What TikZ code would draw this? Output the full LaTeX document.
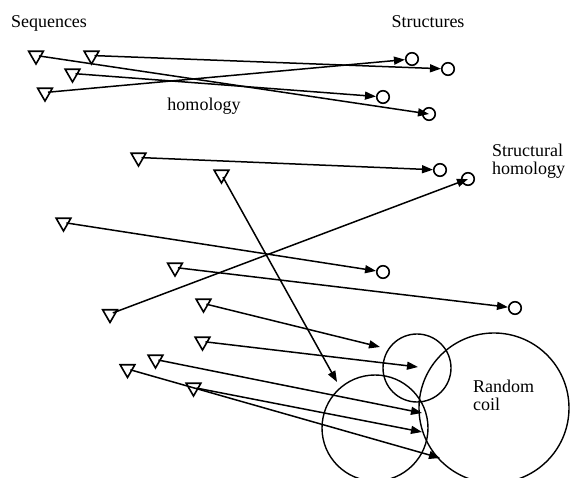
\documentclass[tikz,border=0pt]{standalone}
\usepackage{fontspec}
\setmainfont{Liberation Serif}
\usetikzlibrary{shapes.geometric,arrows.meta}
\tikzset{
  seqtri/.style={draw, regular polygon, regular polygon sides=3, shape border rotate=180,
    minimum size=17pt, inner sep=0pt, line width=1.6pt},
  strc/.style={draw, circle, minimum size=12.5pt, inner sep=0pt, line width=1.6pt},
  bigc/.style={draw, circle, inner sep=0pt, line width=1.4pt},
  conn/.style={line width=1.5pt, -{Triangle[length=11pt,width=8pt]}, shorten <=3pt},
  lbl/.style={font=\fontsize{18}{18}\selectfont, inner sep=0pt, align=left}
}
\begin{document}
\begin{tikzpicture}[x=1pt,y=-1pt]
\useasboundingbox (0,0) rectangle (571,478);
% labels
\node[lbl] (seqlbl) at (49,23) {Sequences};
\node[lbl] (strlbl) at (428,22) {Structures};
\node[lbl] (homlbl) at (204,106) {homology};
\node[lbl, anchor=west] (shlbl) at (492,161) {Structural\\homology};
\node[lbl, anchor=west] (rclbl) at (473,395) {Random\\coil};
% big circles
\node[bigc, minimum size=68pt] (S) at (417,368) {};
\node[bigc, minimum size=106pt] (L) at (375,428) {};
\node[bigc, minimum size=150pt] (R) at (494,408) {};
% triangles
\node[seqtri] (T1) at (36,55.5) {};
\node[seqtri] (T2) at (91.5,55.5) {};
\node[seqtri] (T3) at (72.5,73.5) {};
\node[seqtri] (T4) at (45,92.5) {};
\node[seqtri] (T5) at (138.5,157.5) {};
\node[seqtri] (T6) at (221.5,174.5) {};
\node[seqtri] (T7) at (63.5,222.5) {};
\node[seqtri] (T8) at (175,267.5) {};
\node[seqtri] (T9) at (110,314) {};
\node[seqtri] (T10) at (203.5,303.5) {};
\node[seqtri] (T11) at (202.5,341.5) {};
\node[seqtri] (T12) at (155.5,359.5) {};
\node[seqtri] (T13) at (127.5,369) {};
\node[seqtri] (T14) at (193.5,387.5) {};
% structure circles
\node[strc] (C1) at (412,59) {};
\node[strc] (C2) at (448,69) {};
\node[strc] (C3) at (383,97) {};
\node[strc] (C4) at (429,114) {};
\node[strc] (C5) at (440,170) {};
\node[strc] (C6) at (468,179) {};
\node[strc] (C7) at (383,272) {};
\node[strc] (C8) at (515,308) {};
% tips in the coil circles
\coordinate (P10) at (380,347);
\coordinate (P11) at (418,367);
\coordinate (P6) at (337,382);
\coordinate (P12) at (422,413);
\coordinate (P14) at (422,432);
\coordinate (P13) at (440,458);
% connectors
\draw[conn] (T1.center) -- (C4.center);
\draw[conn] (T2.center) -- (C2);
\draw[conn] (T3.center) -- (C3);
\draw[conn] (T4.center) -- (C1);
\draw[conn] (T5.center) -- (C5);
\draw[conn] (T6.center) -- (P6);
\draw[conn] (T7.center) -- (C7);
\draw[conn] (T8.center) -- (C8);
\draw[conn] (T9.center) -- (C6.center);
\draw[conn] (T10.center) -- (P10);
\draw[conn] (T11.center) -- (P11);
\draw[conn] (T12.center) -- (P12);
\draw[conn] (T13.center) -- (P13);
\draw[conn] (T14.center) -- (P14);
\end{tikzpicture}
\end{document}
